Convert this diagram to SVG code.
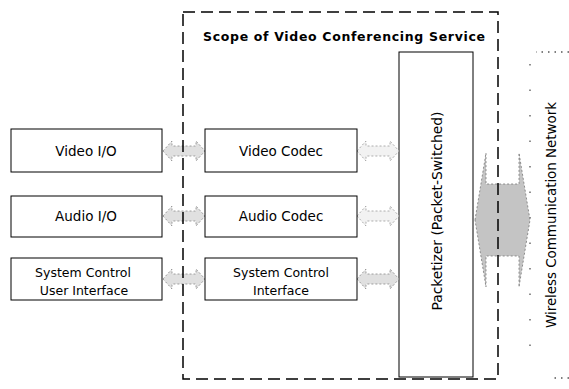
<svg xmlns="http://www.w3.org/2000/svg" xmlns:xlink="http://www.w3.org/1999/xlink" width="569" height="389" viewBox="0 0 569 389">
<style>
.box{fill:#fff;stroke:#000;stroke-width:1}
.lbl{font-family:"DejaVu Sans",Verdana,sans-serif;font-size:13.5px;fill:#000;text-anchor:middle}
.lbl2{font-family:"DejaVu Sans",Verdana,sans-serif;font-size:12.5px;fill:#000;text-anchor:middle}
.title{font-family:"DejaVu Sans",Verdana,sans-serif;font-size:12.5px;font-weight:bold;fill:#000}
.scope{fill:none;stroke:#000;stroke-width:1.5;stroke-dasharray:12 6}
.net{fill:none;stroke:#555;stroke-width:1.3;stroke-dasharray:1.5 5}
.netv{fill:none;stroke:#555;stroke-width:1.3;stroke-dasharray:1.5 24}
.arr{fill:#e0e0e0;stroke:#888;stroke-width:0.8;stroke-dasharray:2 2}
.arr2{fill:#f2f2f2;stroke:#999;stroke-width:0.8;stroke-dasharray:2 2}
.big{fill:#c4c4c4;stroke:#777;stroke-width:0.8;stroke-dasharray:2 2}
</style>
<defs>
<path id="dbl" d="M0,0 L9,-10 L9,-5 L33,-5 L33,-10 L42,0 L33,10 L33,5 L9,5 L9,10 Z"/>
</defs>
<rect width="569" height="389" fill="#fff"/>
<g id="network">
<path class="net" d="M569,52 H536"/>
<path class="netv" d="M530,64 V370"/>
<path class="net" d="M569,378 H552"/>
<text class="lbl" transform="translate(555.5,215) rotate(-90)" style="font-size:13.5px" textLength="226">Wireless Communication Network</text>
</g>
<g id="packetizer">
<rect class="box" x="399" y="52" width="74" height="325"/>
<text class="lbl" transform="translate(441.5,211) rotate(-90)" style="font-size:14px" textLength="199">Packetizer (Packet-Switched)</text>
</g>
<g id="connectors">
<use href="#dbl" class="arr" transform="translate(163,151)"/>
<use href="#dbl" class="arr" transform="translate(163,216)"/>
<use href="#dbl" class="arr" transform="translate(163,279)"/>
<use href="#dbl" class="arr2" transform="translate(357,151)"/>
<use href="#dbl" class="arr2" transform="translate(357,216)"/>
<use href="#dbl" class="arr" transform="translate(357,279)"/>
<path class="big" d="M475,220 L486,153 L486,184 L519,184 L519,153 L530,220 L519,287 L519,256 L486,256 L486,287 Z"/>
</g>
<g id="scope">
<rect class="scope" x="183" y="12" width="315" height="367"/>
<text class="title" x="203" y="41" textLength="282">Scope of Video Conferencing Service</text>
</g>
<g id="video-io">
<rect class="box" x="11" y="129" width="151" height="43"/>
<text class="lbl" x="86" y="156">Video I/O</text>
</g>
<g id="audio-io">
<rect class="box" x="11" y="196" width="151" height="41"/>
<text class="lbl" x="86" y="221">Audio I/O</text>
</g>
<g id="sysctl-ui">
<rect class="box" x="11" y="258" width="151" height="42"/>
<text class="lbl2" x="83" y="277">System Control</text>
<text class="lbl2" x="84" y="295">User Interface</text>
</g>
<g id="video-codec">
<rect class="box" x="205" y="129" width="152" height="43"/>
<text class="lbl" x="281" y="156">Video Codec</text>
</g>
<g id="audio-codec">
<rect class="box" x="205" y="196" width="152" height="41"/>
<text class="lbl" x="281" y="221">Audio Codec</text>
</g>
<g id="sysctl-if">
<rect class="box" x="205" y="258" width="152" height="42"/>
<text class="lbl2" x="281" y="277">System Control</text>
<text class="lbl2" x="281" y="295">Interface</text>
</g>
</svg>
